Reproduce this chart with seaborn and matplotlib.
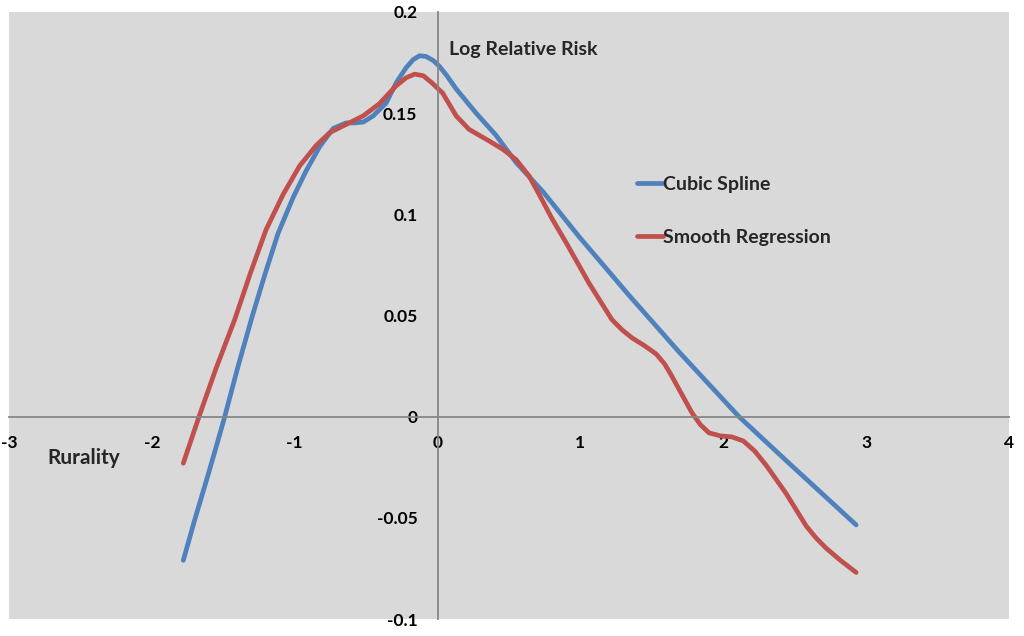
import matplotlib
matplotlib.use("Agg")
import matplotlib.pyplot as plt
import seaborn as sns
import pandas as pd

# ---- data ----
spline_x = [-1.78, -1.70, -1.62, -1.55, -1.49, -1.40, -1.30, -1.21, -1.117, -1.01,
            -0.92, -0.825, -0.73, -0.64, -0.58, -0.52, -0.45, -0.36, -0.29,
            -0.22, -0.17, -0.126, -0.08, -0.03, 0.01, 0.06, 0.13, 0.27, 0.41,
            0.55, 0.74, 0.99, 1.34, 1.69, 2.11, 2.46, 2.93]
spline_y = [-0.071, -0.051, -0.032, -0.015, 0.000, 0.024, 0.049, 0.070, 0.0905, 0.1085,
            0.1215, 0.1335, 0.1425, 0.1452, 0.1452, 0.1456, 0.1487, 0.155, 0.165,
            0.1725, 0.1765, 0.1784, 0.178, 0.176, 0.1734, 0.169, 0.162, 0.150, 0.139,
            0.1256, 0.111, 0.089, 0.060, 0.032, 0.000, -0.023, -0.0535]

smooth_x = [-1.78, -1.67, -1.55, -1.42, -1.31, -1.20, -1.08, -0.965, -0.85, -0.755,
            -0.615, -0.52, -0.41, -0.29, -0.22, -0.16, -0.10, -0.04, 0.035, 0.13,
            0.22, 0.36, 0.46, 0.55, 0.64, 0.71, 0.80, 0.90, 0.98, 1.06,
            1.14, 1.22, 1.29, 1.36, 1.45, 1.53, 1.59, 1.64, 1.71, 1.78,
            1.84, 1.90, 1.98, 2.06, 2.14, 2.22, 2.30, 2.37, 2.44, 2.51,
            2.58, 2.65, 2.72, 2.82, 2.93]
smooth_y = [-0.023, 0.000, 0.024, 0.048, 0.071, 0.0925, 0.110, 0.124, 0.134, 0.1404,
            0.1453, 0.1487, 0.1545, 0.1635, 0.1675, 0.1693, 0.1685, 0.165, 0.160, 0.1487,
            0.142, 0.1363, 0.132, 0.127, 0.119, 0.110, 0.098, 0.086, 0.076, 0.066,
            0.057, 0.048, 0.043, 0.039, 0.035, 0.031, 0.026, 0.020, 0.011, 0.002,
            -0.004, -0.008, -0.0095, -0.010, -0.012, -0.017, -0.024, -0.031, -0.038, -0.046,
            -0.054, -0.060, -0.065, -0.071, -0.077]

series_names = ["Cubic Spline", "Smooth Regression"]
x_ticks = [-3, -2, -1, 0, 1, 2, 3, 4]
y_ticks = [-0.1, -0.05, 0, 0.05, 0.1, 0.15, 0.2]
x_ticklabels = ["-3", "-2", "-1", "0", "1", "2", "3", "4"]
y_ticklabels = ["-0.1", "-0.05", "0", "0.05", "0.1", "0.15", "0.2"]
y_title = "Log Relative Risk"
x_title = "Rurality"

df = pd.concat([
    pd.DataFrame({"x": spline_x, "y": spline_y, "series": series_names[0]}),
    pd.DataFrame({"x": smooth_x, "y": smooth_y, "series": series_names[1]}),
], ignore_index=True)

sns.set_style("white")
plt.rcParams["font.family"] = ["Lato", "DejaVu Sans"]
plt.rcParams["font.weight"] = "bold"

fig = plt.figure(figsize=(10.24, 6.36), dpi=100)
ax = fig.add_axes([9 / 1024, 1 - 619 / 636, 1000 / 1024, 607 / 636])
ax.set_facecolor("#D9D9D9")

palette = {series_names[0]: "#4F81BD", series_names[1]: "#C0504D"}
sns.lineplot(data=df, x="x", y="y", hue="series", palette=palette, sort=False,
             linewidth=3.4, ax=ax, legend=True)
for ln in ax.get_lines():
    ln.set_solid_capstyle("round")
    ln.set_solid_joinstyle("round")

ax.set_xlim(-3, 4)
ax.set_ylim(-0.1, 0.2)
ax.spines["left"].set_position(("data", 0))
ax.spines["bottom"].set_position(("data", 0))
ax.spines["top"].set_visible(False)
ax.spines["right"].set_visible(False)
for s in ("left", "bottom"):
    ax.spines[s].set_color("#868686")
    ax.spines[s].set_linewidth(1.3)

ax.set_xticks(x_ticks)
ax.set_xticklabels(x_ticklabels)
ax.set_yticks(y_ticks)
ax.set_yticklabels(y_ticklabels)
ax.tick_params(axis="both", direction="out", length=4, width=1.2, color="#868686",
               labelsize=12.5, labelcolor="black")
ax.tick_params(axis="y", pad=10.5)
ax.tick_params(axis="x", pad=9)
for lab in ax.get_xticklabels() + ax.get_yticklabels():
    lab.set_fontweight("bold")
ax.set_xlabel("")
ax.set_ylabel("")
ax.grid(False)

ax.text(0.077, 0.1817, y_title, fontsize=14, fontweight="bold", va="center", ha="left")
ax.text(-2.734, -0.0205, x_title, fontsize=15, fontweight="bold", va="center", ha="left")

leg = ax.legend(loc="upper left", bbox_to_anchor=(0.628, 0.730), frameon=False,
                handlelength=1.35, handletextpad=0.0, labelspacing=1.85,
                borderpad=0, borderaxespad=0, prop={"size": 14, "weight": "bold"})
for h in leg.get_lines():
    h.set_linewidth(3.4)

fig.savefig("out.png", dpi=100, facecolor="white")
